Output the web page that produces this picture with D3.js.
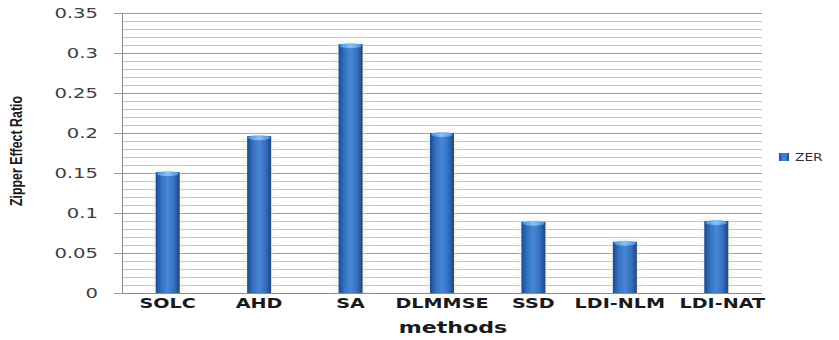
<!DOCTYPE html>
<html>
<head>
<meta charset="utf-8">
<script src="https://cdn.jsdelivr.net/npm/d3@7"></script>
<style>
  html, body { margin: 0; padding: 0; background: #fff; }
  svg { display: block; }
</style>
</head>
<body>
<svg id="chart" width="839" height="340"></svg>
<script>
// Zipper effect ratio per demosaicking method
const methods = ["SOLC", "AHD", "SA", "DLMMSE", "SSD", "LDI-NLM", "LDI-NAT"];
const zer = [0.151, 0.196, 0.311, 0.200, 0.089, 0.064, 0.090];
const yTicks = [0, 0.05, 0.1, 0.15, 0.2, 0.25, 0.3, 0.35];
const yTickLabels = ["0", "0.05", "0.1", "0.15", "0.2", "0.25", "0.3", "0.35"];
const seriesName = "ZER";
const xTitle = "methods";
const yTitle = "Zipper Effect Ratio";

const svg = d3.select("#chart");
const plot = { left: 122, right: 762, top: 13, bottom: 293 };

const x = d3.scaleBand().domain(methods).range([plot.left, plot.right]).padding(0);
const y = d3.scaleLinear().domain([0, 0.35]).range([plot.bottom, plot.top]);

// Cylinder shading for the bars
const defs = svg.append("defs");
const grad = defs.append("linearGradient").attr("id", "barGrad")
  .attr("x1", "0%").attr("x2", "100%").attr("y1", "0%").attr("y2", "0%");
[[0, "#1d4a88"], [0.25, "#3672c2"], [0.5, "#4687d6"], [0.75, "#3672c2"], [1, "#1c4683"]]
  .forEach(([o, c]) => grad.append("stop").attr("offset", o).attr("stop-color", c));
const topGrad = defs.append("linearGradient").attr("id", "topGrad")
  .attr("x1", "0%").attr("x2", "100%");
[[0, "#4d8fd6"], [0.5, "#8cc2f2"], [1, "#4d8fd6"]]
  .forEach(([o, c]) => topGrad.append("stop").attr("offset", o).attr("stop-color", c));
defs.append("filter").attr("id", "glow").attr("x", "-50%").attr("y", "-10%")
  .attr("width", "200%").attr("height", "120%")
  .append("feGaussianBlur").attr("stdDeviation", 3);

// Minor gridlines every 0.01, major every 0.05
const minor = d3.range(0, 0.3501, 0.01);
svg.append("g").selectAll("line").data(minor).join("line")
  .attr("x1", plot.left).attr("x2", plot.right)
  .attr("y1", d => Math.round(y(d)) + 0.5).attr("y2", d => Math.round(y(d)) + 0.5)
  .attr("stroke", "#c4c4c4").attr("stroke-width", 1);
svg.append("g").selectAll("line").data(yTicks).join("line")
  .attr("x1", plot.left - 8).attr("x2", plot.right)
  .attr("y1", d => Math.round(y(d)) + 0.5).attr("y2", d => Math.round(y(d)) + 0.5)
  .attr("stroke", "#9a9a9a").attr("stroke-width", 1);

// Y axis line
svg.append("line")
  .attr("x1", plot.left + 0.5).attr("x2", plot.left + 0.5)
  .attr("y1", plot.top).attr("y2", plot.bottom)
  .attr("stroke", "#8a8a8a");

// Y tick labels
svg.append("g").selectAll("text").data(yTicks).join("text")
  .attr("transform", d => `translate(98,${y(d) + 5}) scale(1.4,1)`)
  .attr("text-anchor", "end")
  .attr("font-family", "DejaVu Sans")
  .attr("font-size", 14)
  .attr("fill", "#404040")
  .text((d, i) => yTickLabels[i]);

// Bars
const bw = 24;
const bars = svg.append("g");
const data = methods.map((m, i) => ({ m, v: zer[i] }));
bars.selectAll("rect.shadow").data(data).join("rect")
  .attr("class", "shadow")
  .attr("x", d => x(d.m) + x.bandwidth() / 2 - bw / 2 - 2)
  .attr("y", d => y(d.v) - 2)
  .attr("width", bw + 4)
  .attr("height", d => y(0) - y(d.v) + 2)
  .attr("fill", "#e8ecd8").attr("opacity", 0.6)
  .attr("filter", "url(#glow)");
bars.selectAll("rect.bar").data(data).join("rect")
  .attr("class", "bar")
  .attr("x", d => x(d.m) + x.bandwidth() / 2 - bw / 2)
  .attr("y", d => y(d.v))
  .attr("width", bw)
  .attr("height", d => y(0) - y(d.v))
  .attr("fill", "url(#barGrad)");
bars.selectAll("ellipse").data(data).join("ellipse")
  .attr("cx", d => x(d.m) + x.bandwidth() / 2)
  .attr("cy", d => y(d.v) + 1.5)
  .attr("rx", bw / 2 - 1)
  .attr("ry", 2.5)
  .attr("fill", "url(#topGrad)");

// X axis line
svg.append("line")
  .attr("x1", plot.left).attr("x2", plot.right)
  .attr("y1", plot.bottom + 0.5).attr("y2", plot.bottom + 0.5)
  .attr("stroke", "#8a8a8a");

// Category labels (the last pair is spread apart a little so they don't touch)
const labelShift = d => d === "LDI-NLM" ? -5 : d === "LDI-NAT" ? 6 : 0;
svg.append("g").selectAll("text").data(methods).join("text")
  .attr("transform", d => `translate(${x(d) + x.bandwidth() / 2 + labelShift(d)},308) scale(1.42,1)`)
  .attr("text-anchor", "middle")
  .attr("font-family", "DejaVu Sans")
  .attr("font-weight", "bold")
  .attr("font-size", 13.5)
  .attr("fill", "#1a1a1a")
  .text(d => d);

// Axis titles
svg.append("text")
  .attr("transform", "translate(453,333) scale(1.38,1)")
  .attr("text-anchor", "middle")
  .attr("font-family", "DejaVu Sans")
  .attr("font-weight", "bold")
  .attr("font-size", 16)
  .attr("fill", "#1a1a1a")
  .text(xTitle);

svg.append("text")
  .attr("transform", "translate(22,151) rotate(-90)")
  .attr("text-anchor", "middle")
  .attr("font-family", "Liberation Sans Narrow, Liberation Sans, sans-serif")
  .attr("font-weight", "bold")
  .attr("font-size", 16)
  .attr("textLength", 110)
  .attr("lengthAdjust", "spacingAndGlyphs")
  .attr("fill", "#1a1a1a")
  .text(yTitle);

// Legend
const lg = svg.append("g");
lg.append("rect").attr("x", 779).attr("y", 153).attr("width", 10).attr("height", 8)
  .attr("fill", "url(#barGrad)");
lg.append("text")
  .attr("transform", "translate(795,161) scale(1.25,1)")
  .attr("font-family", "DejaVu Sans")
  .attr("font-size", 11)
  .attr("fill", "#303030")
  .text(seriesName);
</script>
</body>
</html>
